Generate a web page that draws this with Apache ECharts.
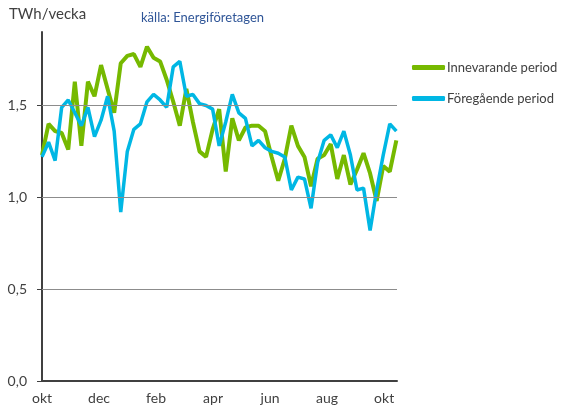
<!DOCTYPE html>
<html>
<head>
<meta charset="utf-8">
<script src="https://cdn.jsdelivr.net/npm/echarts@6/dist/echarts.min.js"></script>
<style>
  html, body { margin: 0; padding: 0; background: #fff; }
  #main { width: 568px; height: 412px; }
</style>
</head>
<body>
<div id="main"></div>
<script>
// veckovärden, TWh/vecka (okt -> okt)
const innevarande = [
  1.23, 1.40, 1.36, 1.35, 1.26, 1.63, 1.28, 1.63, 1.55, 1.72,
  1.59, 1.46, 1.73, 1.77, 1.78, 1.71, 1.82, 1.76, 1.74, 1.64,
  1.52, 1.39, 1.59, 1.41, 1.25, 1.22, 1.37, 1.48, 1.14, 1.43,
  1.31, 1.38, 1.39, 1.39, 1.36, 1.22, 1.09, 1.21, 1.39, 1.28,
  1.22, 1.06, 1.21, 1.23, 1.29, 1.10, 1.23, 1.07, 1.15, 1.24,
  1.13, 0.98, 1.17, 1.14, 1.31
];
const foregaende = [
  1.22, 1.30, 1.20, 1.49, 1.53, 1.46, 1.39, 1.49, 1.33, 1.42,
  1.55, 1.36, 0.92, 1.25, 1.37, 1.40, 1.52, 1.56, 1.53, 1.49,
  1.71, 1.74, 1.55, 1.56, 1.51, 1.50, 1.48, 1.28, 1.41, 1.56,
  1.46, 1.43, 1.28, 1.31, 1.27, 1.25, 1.24, 1.22, 1.04, 1.11,
  1.10, 0.94, 1.19, 1.31, 1.34, 1.27, 1.36, 1.23, 1.04, 1.05,
  0.82, 1.04, 1.23, 1.40, 1.36
];
const seriesNames = ['Innevarande period', 'Föregående period'];
const monthLabels = ['okt', 'dec', 'feb', 'apr', 'jun', 'aug', 'okt'];
const monthTicks = [0, 8.69, 17.38, 26.07, 34.76, 43.45, 52.14]; // i veckor
const yTicks = [0, 0.5, 1.0, 1.5];

const chart = echarts.init(document.getElementById('main'));
const font = 'Lato, "Open Sans", sans-serif';
const toPairs = arr => arr.map((v, i) => [i, v]);

chart.setOption({
  animation: false,
  textStyle: { fontFamily: font },
  title: [
    { text: 'TWh/vecka', left: 4, top: 2,
      textStyle: { fontSize: 15, fontWeight: 'normal', color: '#404040', fontFamily: font } },
    { text: 'källa: Energiföretagen', left: 136, top: 6,
      textStyle: { fontSize: 13, fontWeight: 'normal', color: '#2f5597', fontFamily: font } }
  ],
  legend: {
    orient: 'vertical', left: 407, top: 56, itemGap: 18,
    icon: 'roundRect', itemWidth: 33, itemHeight: 5,
    textStyle: { fontSize: 13, color: '#404040', padding: [0, 0, 0, -3] },
    data: seriesNames
  },
  grid: { left: 42, right: 171, top: 32, bottom: 31 },
  xAxis: {
    type: 'value', min: 0, max: 54.1,
    axisLine: { show: true, lineStyle: { color: '#404040', width: 2 } },
    axisTick: { show: false },
    splitLine: { show: false },
    axisLabel: {
      customValues: monthTicks, margin: 10, fontSize: 14, color: '#404040',
      formatter: v => monthLabels[monthTicks.indexOf(v)] || ''
    }
  },
  yAxis: {
    type: 'value', min: 0, max: 1.9,
    axisLine: { show: true, lineStyle: { color: '#404040', width: 2 } },
    axisTick: { show: true, customValues: yTicks, length: 5, lineStyle: { color: '#404040', width: 1 } },
    splitLine: { show: false },
    axisLabel: {
      customValues: yTicks, margin: 15, fontSize: 14, color: '#404040',
      formatter: v => v.toFixed(1).replace('.', ',')
    }
  },
  series: [
    {
      name: seriesNames[0], type: 'line', data: toPairs(innevarande),
      symbol: 'none', z: 3,
      lineStyle: { color: '#76b900', width: 4 }, itemStyle: { color: '#76b900' },
      markLine: {
        silent: true, symbol: 'none', label: { show: false },
        lineStyle: { color: '#8c8c8c', width: 1, type: 'solid' },
        data: yTicks.slice(1).map(v => ({ yAxis: v }))
      }
    },
    {
      name: seriesNames[1], type: 'line', data: toPairs(foregaende),
      symbol: 'none', z: 4,
      lineStyle: { color: '#00b7e4', width: 3.5 }, itemStyle: { color: '#00b7e4' }
    }
  ]
});
</script>
</body>
</html>
